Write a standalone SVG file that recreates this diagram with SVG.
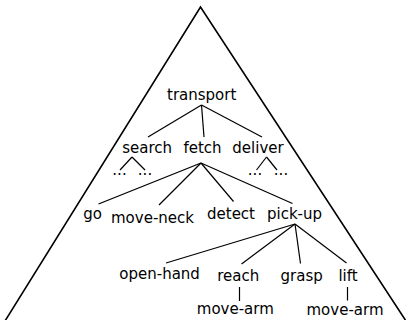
<svg xmlns="http://www.w3.org/2000/svg" width="406" height="320" viewBox="0 0 406 320">
<style>
text{font-family:"DejaVu Sans",sans-serif;font-size:15px;fill:#000;text-anchor:middle}
.e{stroke:#000;stroke-width:1.2;fill:none}
.t{stroke:#000;stroke-width:1.6;fill:none}
</style>
<rect width="406" height="320" fill="#fff"/>
<g id="triangle"><polyline class="t" points="5,321 200.5,7 406,321"/></g>
<g id="connectors">
<line class="e" x1="201.5" y1="105" x2="148" y2="137"/>
<line class="e" x1="201.5" y1="105" x2="204" y2="137"/>
<line class="e" x1="201.5" y1="105" x2="262" y2="137"/>
<line class="e" x1="132" y1="157" x2="120" y2="170"/>
<line class="e" x1="132" y1="157" x2="145" y2="170"/>
<line class="e" x1="266.5" y1="157" x2="256.5" y2="170"/>
<line class="e" x1="266.5" y1="157" x2="277" y2="170"/>
<line class="e" x1="201" y1="163" x2="98.5" y2="204"/>
<line class="e" x1="201" y1="163" x2="159" y2="205"/>
<line class="e" x1="201" y1="163" x2="233.5" y2="201.5"/>
<line class="e" x1="201" y1="163" x2="292.5" y2="203.5"/>
<line class="e" x1="295" y1="224" x2="166" y2="263"/>
<line class="e" x1="295" y1="224" x2="241.5" y2="264"/>
<line class="e" x1="295" y1="224" x2="300.5" y2="263.5"/>
<line class="e" x1="295" y1="224" x2="346.5" y2="263"/>
<line class="e" x1="239.5" y1="287" x2="239.5" y2="301"/>
<line class="e" x1="347.5" y1="287" x2="347.5" y2="300.5"/>
</g>
<g id="transport"><text x="201.7" y="100">transport</text></g>
<g id="search"><text x="147.2" y="152.5">search</text></g>
<g id="fetch"><text x="202.5" y="152.5">fetch</text></g>
<g id="deliver"><text x="258" y="152.5">deliver</text></g>
<g id="search-dots1"><text x="119.5" y="175">...</text></g>
<g id="search-dots2"><text x="145" y="175">...</text></g>
<g id="deliver-dots1"><text x="255" y="175">...</text></g>
<g id="deliver-dots2"><text x="281" y="175">...</text></g>
<g id="go"><text x="92.5" y="218.5">go</text></g>
<g id="move-neck"><text x="152.5" y="222.5">move-neck</text></g>
<g id="detect"><text x="231" y="219">detect</text></g>
<g id="pick-up"><text x="294.5" y="219">pick-up</text></g>
<g id="open-hand"><text x="159.6" y="279">open-hand</text></g>
<g id="reach"><text x="238.3" y="280.5">reach</text></g>
<g id="grasp"><text x="301.7" y="280.5">grasp</text></g>
<g id="lift"><text x="348" y="280.5">lift</text></g>
<g id="move-arm-1"><text x="235.3" y="314">move-arm</text></g>
<g id="move-arm-2"><text x="345" y="315">move-arm</text></g>
</svg>
